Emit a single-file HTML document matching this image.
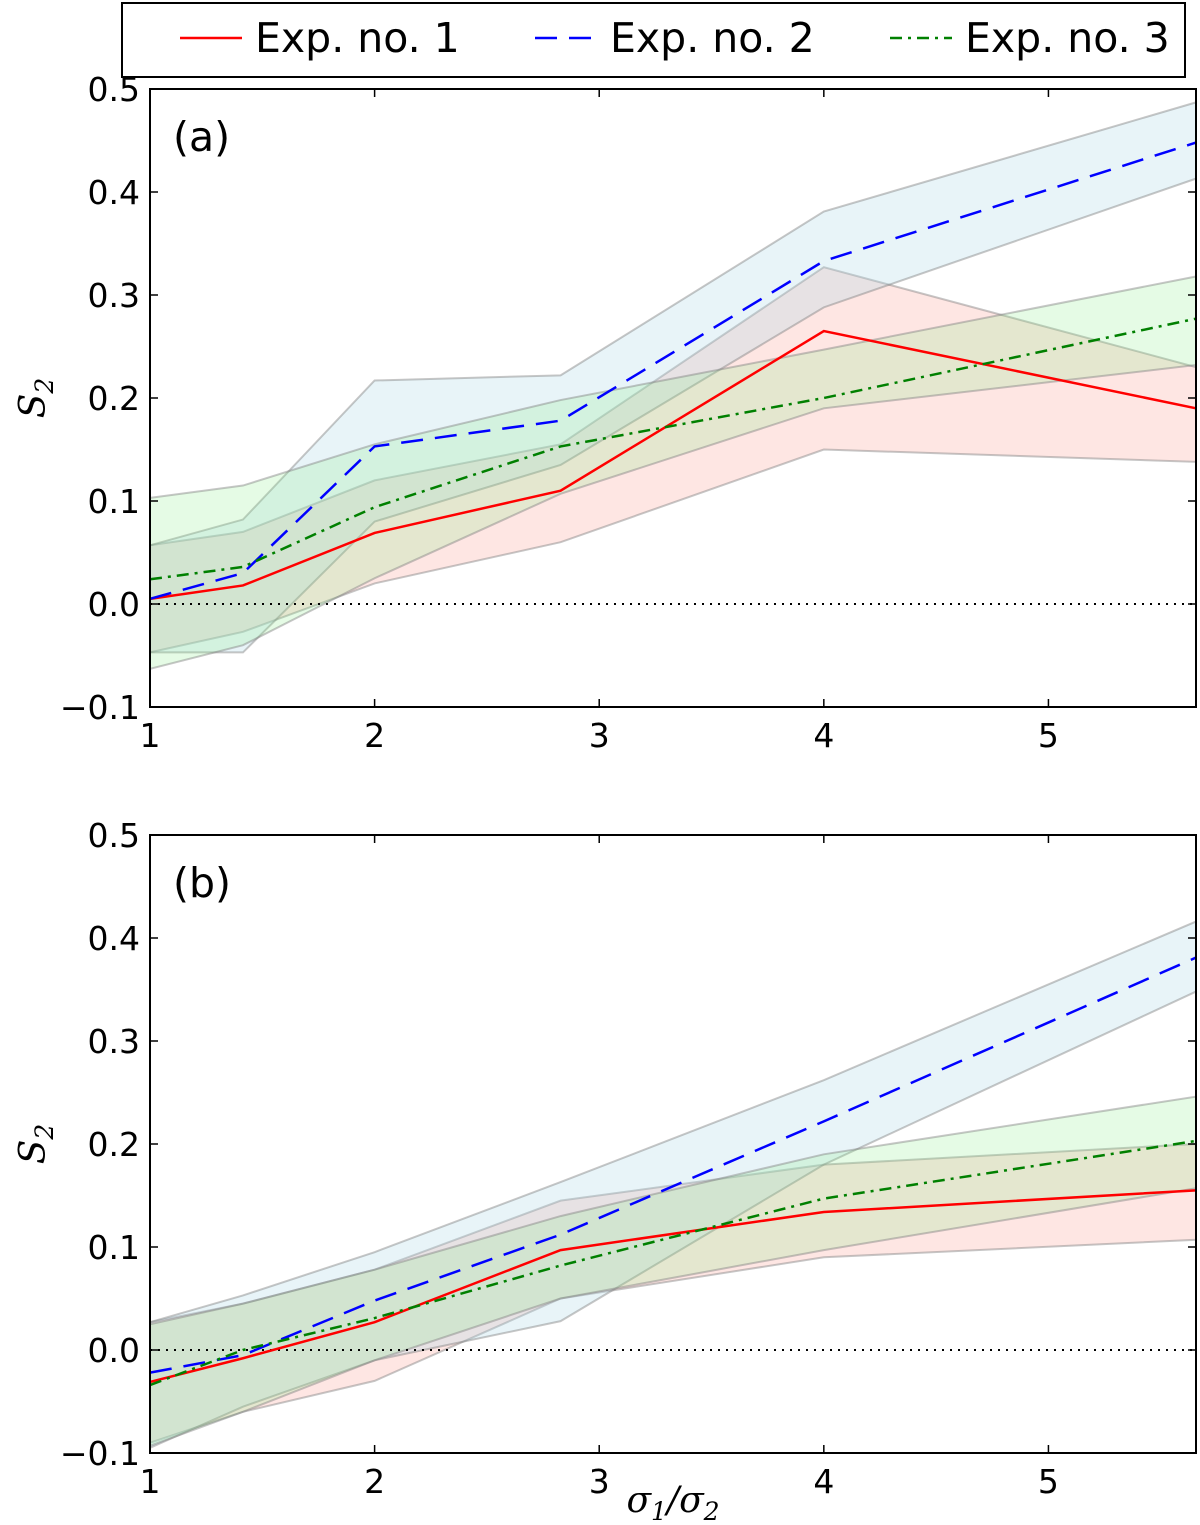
<!DOCTYPE html>
<html><head><meta charset="utf-8"><style>
body{margin:0;background:#fff;}
svg{display:block;font-family:"DejaVu Sans","Liberation Sans",sans-serif;}
</style></head><body>
<svg id="chart" width="1200" height="1525"></svg>
<script>
const xVals=[1,1.414,2,2.828,4,5.657];
const xTicks=[1,2,3,4,5];
const yTicks=[-0.1,0,0.1,0.2,0.3,0.4,0.5];
const yTickLabels=["\u22120.1","0.0","0.1","0.2","0.3","0.4","0.5"];
const seriesNames=["Exp. no. 1","Exp. no. 2","Exp. no. 3"];
// panel a
const aExp1=[0.005,0.018,0.069,0.11,0.265,0.19];
const aExp1Up=[0.057,0.07,0.12,0.155,0.327,0.23];
const aExp1Lo=[-0.047,-0.027,0.02,0.06,0.15,0.138];
const aExp2=[0.005,0.03,0.153,0.178,0.333,0.448];
const aExp2Up=[0.057,0.082,0.217,0.222,0.381,0.487];
const aExp2Lo=[-0.047,-0.047,0.08,0.135,0.288,0.413];
const aExp3=[0.024,0.036,0.094,0.153,0.2,0.277];
const aExp3Up=[0.103,0.115,0.155,0.198,0.247,0.318];
const aExp3Lo=[-0.063,-0.04,0.025,0.107,0.19,0.232];
// panel b
const bExp1=[-0.031,-0.008,0.027,0.097,0.134,0.155];
const bExp1Up=[0.027,0.045,0.078,0.145,0.18,0.2];
const bExp1Lo=[-0.09,-0.06,-0.03,0.05,0.09,0.107];
const bExp2=[-0.022,-0.005,0.048,0.112,0.222,0.381];
const bExp2Up=[0.027,0.053,0.095,0.163,0.262,0.416];
const bExp2Lo=[-0.095,-0.055,-0.01,0.028,0.18,0.348];
const bExp3=[-0.034,0.0,0.031,0.082,0.147,0.203];
const bExp3Up=[0.025,0.045,0.078,0.13,0.19,0.246];
const bExp3Lo=[-0.093,-0.06,-0.01,0.05,0.097,0.157];

const NS="http://www.w3.org/2000/svg";
const svg=document.getElementById('chart');
function mk(tag,attrs,parent){const e=document.createElementNS(NS,tag);for(const k in attrs)e.setAttribute(k,attrs[k]);(parent||svg).appendChild(e);return e;}
const X0=150,X1=1196;
const xs=v=>X0+(v-1)/(5.657-1)*(X1-X0);

const styles=[
 {stroke:"#ff0000",dash:"",fill:"rgba(250,128,114,0.2)"},
 {stroke:"#0000ff",dash:"22,12",fill:"rgba(173,216,230,0.28)"},
 {stroke:"#008000",dash:"12,6,3,6",fill:"rgba(144,238,144,0.23)"}
];

function panel(name,top,bot,label,data){
  const ys=v=>bot+(v+0.1)/0.6*(top-bot);
  const g=mk('g',{});
  
  
  data.forEach((d,i)=>{
    let p="";
    xVals.forEach((x,j)=>{p+=(j?"L":"M")+xs(x)+","+ys(d.up[j]);});
    for(let j=xVals.length-1;j>=0;j--)p+="L"+xs(xVals[j])+","+ys(d.lo[j]);
    const b=mk('path',{d:p+"Z",fill:styles[i].fill,stroke:"rgba(128,128,128,0.45)","stroke-width":2},g);
    
    
  });
  const z=mk('line',{x1:X0,x2:X1,y1:ys(0),y2:ys(0),stroke:"#000","stroke-width":2,"stroke-dasharray":"2,6"},g);
  
  
  data.forEach((d,i)=>{
    const pts=xVals.map((x,j)=>xs(x)+","+ys(d.mid[j])).join(" ");
    const l=mk('polyline',{points:pts,fill:"none",stroke:styles[i].stroke,"stroke-width":2.5,"stroke-dasharray":styles[i].dash},g);
    
    
  });
  const r=mk('rect',{x:X0,y:top,width:X1-X0,height:bot-top,fill:"none",stroke:"#000","stroke-width":2},g);
  
  
  yTicks.forEach((t,i)=>{
    const y=ys(t);
    mk('line',{x1:X0,x2:X0+8,y1:y,y2:y,stroke:"#000","stroke-width":1.5},g);
    mk('line',{x1:X1,x2:X1-8,y1:y,y2:y,stroke:"#000","stroke-width":1.5},g);
    const tx=mk('text',{x:X0-10,y:y+12,"text-anchor":"end","font-size":33},g);
    tx.textContent=yTickLabels[i];
    
    
  });
  xTicks.forEach(t=>{
    const x=xs(t);
    mk('line',{x1:x,x2:x,y1:bot,y2:bot-8,stroke:"#000","stroke-width":1.5},g);
    mk('line',{x1:x,x2:x,y1:top,y2:top+8,stroke:"#000","stroke-width":1.5},g);
    const tx=mk('text',{x:x,y:bot+40,"text-anchor":"middle","font-size":33},g);
    tx.textContent=t;
    
    
  });
  const lb=mk('text',{x:173,y:top+62,"font-size":41},g);
  lb.textContent=label;
  
  
  const yt=mk('text',{x:0,y:0,"font-size":36,"font-style":"italic","font-family":"DejaVu Serif,Liberation Serif,serif",transform:"translate(45,"+((top+bot)/2)+") rotate(-90)","text-anchor":"middle"},g);
  yt.innerHTML='S<tspan font-size="25" dy="8">2</tspan>';
  
  
}
panel('a',89,707,'(a)',[
 {mid:aExp1,up:aExp1Up,lo:aExp1Lo},{mid:aExp2,up:aExp2Up,lo:aExp2Lo},{mid:aExp3,up:aExp3Up,lo:aExp3Lo}]);
panel('b',835,1453,'(b)',[
 {mid:bExp1,up:bExp1Up,lo:bExp1Lo},{mid:bExp2,up:bExp2Up,lo:bExp2Lo},{mid:bExp3,up:bExp3Up,lo:bExp3Lo}]);

const xt=mk('text',{x:673,y:1512,"text-anchor":"middle","font-size":36,"font-style":"italic","font-family":"DejaVu Serif,Liberation Serif,serif"});
xt.innerHTML='σ<tspan font-size="25" dy="8">1</tspan><tspan dy="-8">/σ</tspan><tspan font-size="25" dy="8">2</tspan>';



const lg=mk('g',{});


mk('rect',{x:122,y:3,width:1063,height:74,fill:"#fff",stroke:"#000","stroke-width":2},lg);
const lx=[180,535,890];
seriesNames.forEach((n,i)=>{
  const e=mk('g',{},lg);
  
  
  mk('line',{x1:lx[i],x2:lx[i]+62,y1:38,y2:38,stroke:styles[i].stroke,"stroke-width":2.5,"stroke-dasharray":styles[i].dash},e);
  const t=mk('text',{x:lx[i]+75,y:52,"font-size":41},e);
  t.textContent=n;
});
</script>
</body></html>
